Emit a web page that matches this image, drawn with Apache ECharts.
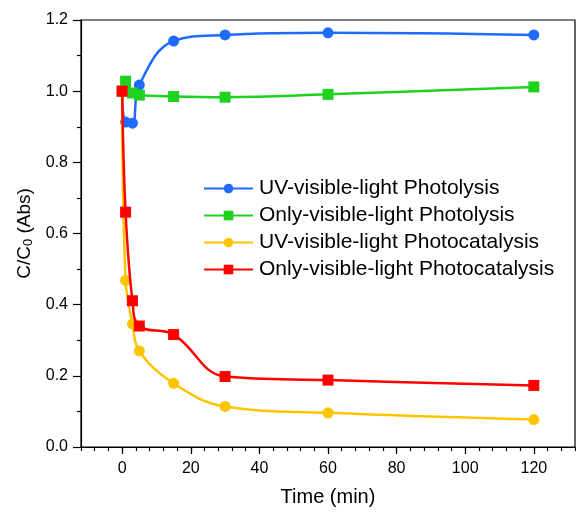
<!DOCTYPE html>
<html>
<head>
<meta charset="utf-8">
<script src="https://cdn.jsdelivr.net/npm/echarts@6/dist/echarts.min.js"></script>
<style>html,body{margin:0;padding:0;background:#fff}#c{width:576px;height:512px}</style>
</head>
<body>
<div id="c"></div>
<script>
var seriesNames = ['UV-visible-light Photolysis','Only-visible-light Photolysis','UV-visible-light Photocatalysis','Only-visible-light Photocatalysis'];
var times = [0, 1, 3, 5, 15, 30, 60, 120];
var uvPhotolysis = [1.0, 0.913, 0.910, 1.017, 1.141, 1.158, 1.164, 1.158];
var visPhotolysis = [1.0, 1.028, 0.995, 0.989, 0.985, 0.983, 0.991, 1.012];
var uvPhotocatalysis = [1.0, 0.468, 0.346, 0.270, 0.179, 0.114, 0.096, 0.077];
var visPhotocatalysis = [1.0, 0.660, 0.411, 0.340, 0.316, 0.198, 0.188, 0.173];
var xMajorTicks = [0, 20, 40, 60, 80, 100, 120];
var xMinorTicks = [-12,-8,-4,0,4,8,12,16,20,24,28,32,36,40,44,48,52,56,60,64,68,72,76,80,84,88,92,96,100,104,108,112,116,120,124,128,132];
var yTicks = [0, 0.2, 0.4, 0.6, 0.8, 1.0, 1.2];

var font = 'Liberation Sans, Arial, sans-serif';
var colors = ['#1f6bff', '#1ed21e', '#ffc400', '#ff0000'];
var symbols = ['circle', 'rect', 'circle', 'rect'];
var values = [uvPhotolysis, visPhotolysis, uvPhotocatalysis, visPhotocatalysis];

function pairs(vals) { return times.map(function (t, i) { return [t, vals[i]]; }); }

var series = values.map(function (v, k) {
  return {
    name: seriesNames[k], type: 'line', xAxisIndex: 0, yAxisIndex: 0,
    data: pairs(v), smooth: 0.4, symbol: symbols[k], symbolSize: 11,
    showSymbol: true,
    lineStyle: { color: colors[k], width: 2.5 },
    itemStyle: { color: colors[k] },
    z: 2 + k
  };
});

var chart = echarts.init(document.getElementById('c'));
chart.setOption({
  animation: false,
  textStyle: { fontFamily: font },
  grid: { left: 81, top: 20, right: 1, bottom: 61, show: true, borderColor: '#000', borderWidth: 1.2, backgroundColor: 'transparent' },
  legend: {
    data: seriesNames, orient: 'vertical', left: 203, top: 178, padding: 0,
    itemWidth: 49, itemHeight: 12, itemGap: 6,
    textStyle: { fontFamily: font, fontSize: 21, color: '#000', padding: [0, 0, 0, 1] }
  },
  xAxis: [{
    type: 'value', min: -12, max: 132,
    name: 'Time (min)', nameLocation: 'middle', nameGap: 40,
    nameTextStyle: { fontFamily: font, fontSize: 20, color: '#000' },
    axisLine: { show: true, onZero: false, lineStyle: { color: '#000', width: 1.2 } },
    axisTick: { show: true, length: 7, customValues: xMajorTicks, lineStyle: { color: '#000', width: 1.2 } },
    axisLabel: { customValues: xMajorTicks, margin: 14, fontFamily: font, fontSize: 16, color: '#000' },
    splitLine: { show: false }
  }, {
    type: 'value', min: -12, max: 132, position: 'bottom',
    axisLine: { show: false, onZero: false },
    axisTick: { show: true, length: 4, customValues: xMinorTicks, lineStyle: { color: '#000', width: 1.2 } },
    axisLabel: { show: false },
    splitLine: { show: false }
  }],
  yAxis: [{
    type: 'value', min: 0, max: 1.2, interval: 0.2,
    name: 'C/C{sub|0} (Abs)', nameLocation: 'middle', nameGap: 44, nameRotate: 90,
    nameTextStyle: { fontFamily: font, fontSize: 19, color: '#000',
      rich: { sub: { fontFamily: font, fontSize: 13, color: '#000', padding: [8, 0, 0, 0] } } },
    axisLine: { show: true, onZero: false, lineStyle: { color: '#000', width: 1.2 } },
    axisTick: { show: true, length: 8, lineStyle: { color: '#000', width: 1.2 } },
    minorTick: { show: true, splitNumber: 2, length: 4, lineStyle: { color: '#000', width: 1.2 } },
    axisLabel: { margin: 13, fontFamily: font, fontSize: 16, color: '#000',
      formatter: function (v) { return v.toFixed(1); } },
    splitLine: { show: false }
  }],
  series: series
});
</script>
</body>
</html>
